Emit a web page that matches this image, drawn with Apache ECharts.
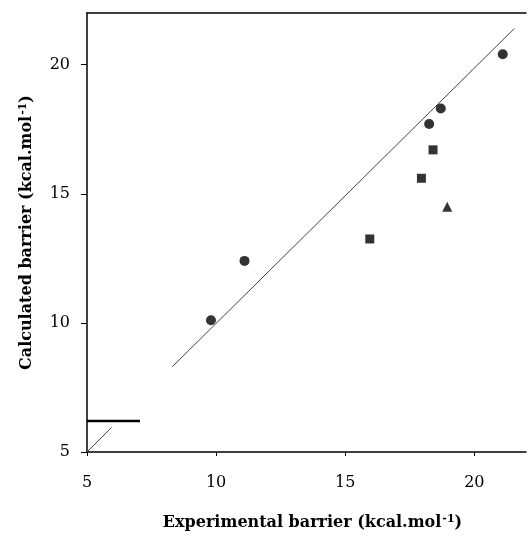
<!DOCTYPE html>
<html>
<head>
<meta charset="utf-8">
<script src="https://cdn.jsdelivr.net/npm/echarts@6/dist/echarts.min.js"></script>
<style>
html,body{margin:0;padding:0;background:#fff;}
#chart{width:528px;height:536px;}
</style>
</head>
<body>
<div id="chart"></div>
<script>
// Data
var circleX = [9.8, 11.1, 18.25, 18.7, 21.1];
var circleY = [10.1, 12.4, 17.7, 18.3, 20.4];
var squareX = [15.95, 17.95, 18.4];
var squareY = [13.25, 15.6, 16.7];
var triangleX = [18.95];
var triangleY = [14.5];
var fitLineX = [8.3, 21.55];
var fitLineY = [8.3, 21.4];
var smallDiagX = [5, 5.95];
var smallDiagY = [5, 5.95];
var thickLineX = [5, 7.05];
var thickLineY = [6.2, 6.2];
var xTicks = [5, 10, 15, 20];
var yTicks = [5, 10, 15, 20];

function pairs(xs, ys) { return xs.map(function (x, i) { return [x, ys[i]]; }); }

var chart = echarts.init(document.getElementById('chart'), null, {renderer: 'canvas'});
var font = '"DejaVu Serif", "Liberation Serif", serif';
var nameRich = {
  a: {fontFamily: font, fontWeight: 'bold', fontSize: 16, color: '#000'},
  s: {fontFamily: font, fontWeight: 'bold', fontSize: 11, color: '#000', verticalAlign: 'top', padding: [0, 0, 6, 1]}
};
var option = {
  animation: false,
  backgroundColor: '#fff',
  grid: {left: 87, top: 13, right: 2, bottom: 84},
  xAxis: [{
    type: 'value', min: 5, max: 22, interval: 5, position: 'bottom',
    name: '{a|Experimental barrier (kcal.mol}{s|-1}{a|)}',
    nameLocation: 'middle', nameGap: 62,
    nameTextStyle: {rich: nameRich, padding: [0, 0, 0, 12]},
    axisLine: {show: true, onZero: false, lineStyle: {color: '#000', width: 1.5}},
    axisTick: {show: true, length: 4, lineStyle: {color: '#000'}},
    axisLabel: {fontFamily: font, fontSize: 16, color: '#000', margin: 23, showMaxLabel: false,
      formatter: function (v) { return xTicks.indexOf(v) >= 0 ? String(v) : ''; }},
    splitLine: {show: false}
  }, {
    type: 'value', min: 5, max: 22, position: 'top',
    axisLine: {show: true, lineStyle: {color: '#000', width: 1.5}},
    axisTick: {show: false}, axisLabel: {show: false}, splitLine: {show: false}
  }],
  yAxis: {
    type: 'value', min: 5, max: 22, interval: 5,
    name: '{a|Calculated barrier (kcal.mol}{s|-1}{a|)}',
    nameLocation: 'middle', nameGap: 52,
    nameTextStyle: {rich: nameRich},
    axisLine: {show: true, onZero: false, lineStyle: {color: '#000', width: 1.5}},
    axisTick: {show: true, length: 6, lineStyle: {color: '#000'}},
    axisLabel: {fontFamily: font, fontSize: 16, color: '#000', margin: 17, showMaxLabel: false,
      formatter: function (v) { return yTicks.indexOf(v) >= 0 ? String(v) : ''; }},
    splitLine: {show: false}
  },
  series: [
    {type: 'line', data: pairs(fitLineX, fitLineY), symbol: 'none', lineStyle: {color: '#444', width: 1}, silent: true},
    {type: 'line', data: pairs(smallDiagX, smallDiagY), symbol: 'none', lineStyle: {color: '#444', width: 1}, silent: true},
    {type: 'line', data: pairs(thickLineX, thickLineY), symbol: 'none', lineStyle: {color: '#000', width: 2.5}, silent: true},
    {type: 'scatter', data: pairs(circleX, circleY), symbol: 'circle', symbolSize: 10, itemStyle: {color: '#000'}},
    {type: 'scatter', data: pairs(squareX, squareY), symbol: 'rect', symbolSize: 9, itemStyle: {color: '#000'}},
    {type: 'scatter', data: pairs(triangleX, triangleY), symbol: 'triangle', symbolSize: 10, itemStyle: {color: '#000'}}
  ]
};
chart.setOption(option);
</script>
</body>
</html>
